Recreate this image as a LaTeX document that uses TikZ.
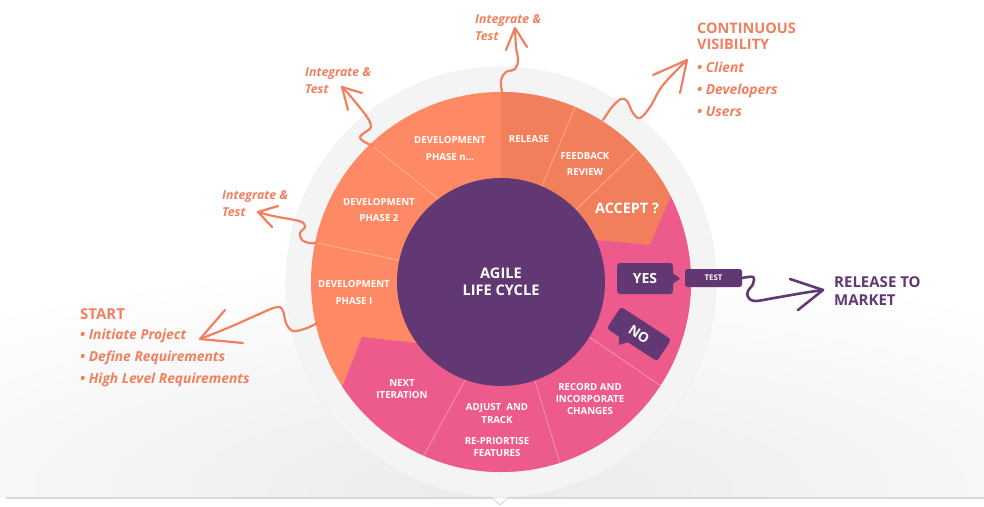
\documentclass[tikz,border=0pt]{standalone}
\usepackage{fontspec}
\setmainfont{Open Sans}

\definecolor{devorange}{RGB}{253,138,100}
\definecolor{reforange}{RGB}{242,127,91}
\definecolor{wheelpink}{RGB}{236,91,140}
\definecolor{wheelpurple}{RGB}{97,56,115}
\definecolor{salmon}{RGB}{240,128,96}
\definecolor{ringgray}{RGB}{244,244,244}

\tikzset{
  seglabel/.style={text=white, align=center, inner sep=0pt,
    font=\bfseries\fontsize{9.7}{#1}\selectfont},
  seglabel/.default=16,
  note/.style={text=salmon, align=left, anchor=west, inner sep=0pt},
  handline/.style={draw=salmon, line width=2.2pt, line cap=round, line join=round},
  purpleline/.style={draw=wheelpurple, line width=2.6pt, line cap=round, line join=round},
  divider/.style={draw=white, draw opacity=0.35, line width=0.8pt},
  bubble/.style={fill=wheelpurple, rounded corners=3pt, text=white, inner sep=0pt,
    font=\bfseries\fontsize{14}{14}\selectfont},
}

\begin{document}
\begin{tikzpicture}[x=1pt,y=-1pt]
\useasboundingbox (0,0) rectangle (984,506);
\fill[white] (0,0) rectangle (984,506);

% soft floor shadow under the wheel
\begin{scope}
  \clip (0,0) rectangle (984,497.5);
  \shade[inner color=black!8, outer color=white] (500,490) ellipse [x radius=800pt, y radius=230pt];
\end{scope}

% base line with notch
\draw[black!15, line width=1.3pt] (6,498) -- (984,498);
\draw[black!15, fill=white, line width=1pt, line join=round] (492,497.6) -- (500,505) -- (508,497.6);

\coordinate (hub) at (501,282);

% outer gray ring
\fill[ringgray] (hub) circle[radius=215pt];
\draw[black!6, line width=0.6pt] (hub) circle[radius=215pt];

% coloured ring
\begin{scope}
  \clip (hub) circle[radius=190pt];
  \fill[devorange] (hub) circle[radius=191pt];
  \fill[reforange] (hub) -- (501.5,60) -- (760,60) -- (760,172) -- (681,172)
        -- (650,245) -- (596,240) -- cycle;
  \fill[wheelpink] (596,240) -- (650,245) -- (681,172) -- (760,172) -- (760,520)
        -- (320,520) -- (329,420) -- (343,385) -- (362,337) -- (417,343) -- (hub) -- cycle;
  % segment dividers
  \draw[divider] (575.2,107.1) -- (541.6,186.3);
  \draw[divider] (637.7,150.0) -- (575.8,209.8);
  \draw[divider] (370.2,144.2) -- (438.4,198.9);
  \draw[divider] (315.1,242.5) -- (399.3,260.4);
  \draw[divider] (465.4,379.7) -- (423.7,455.6);
  \draw[divider] (534.9,380.4) -- (559.7,462.7);
  \draw[divider] (589.2,337.1) -- (660.4,385.5);
\end{scope}

% centre disc
\fill[wheelpurple] (hub) circle[radius=104pt];
\node[text=white, align=center, inner sep=0pt, font=\bfseries\fontsize{14.6}{17.5}\selectfont]
  (agile) at (501,282) {AGILE\\LIFE CYCLE};

% segment labels
\node[seglabel=17] (devn) at (450,148.5) {DEVELOPMENT\\PHASE n...};
\node[seglabel] (release) at (529,139) {RELEASE};
\node[seglabel] (feedback) at (585,164) {FEEDBACK\\REVIEW};
\node[text=white, inner sep=0pt, font=\bfseries\fontsize{14.4}{15}\selectfont] (accept) at (627,208) {ACCEPT ?};
\node[seglabel] (dev2) at (379,210) {DEVELOPMENT\\PHASE 2};
\node[seglabel=17] (dev1) at (354,292.5) {DEVELOPMENT\\PHASE I};
\node[seglabel=12] (next) at (402,389) {NEXT\\ITERATION};
\node[seglabel=13] (adjust) at (497,413.5) {ADJUST\ \ AND\\TRACK};
\node[seglabel=12] (reprio) at (497,447) {RE-PRIORTISE\\FEATURES};
\node[seglabel=12] (record) at (590,399) {RECORD AND\\INCORPORATE\\CHANGES};

% decision bubbles
\node[bubble, minimum width=56pt, minimum height=31pt] (yes) at (645,278.5) {YES};
\fill[wheelpurple] ([shift={(0,-5)}]yes.east) -- ([shift={(7,0)}]yes.east) -- ([shift={(0,5)}]yes.east) -- cycle;
\node[bubble, rounded corners=2.5pt, minimum width=57pt, minimum height=18pt,
      font=\bfseries\fontsize{7.8}{8}\selectfont] (test) at (713.5,278) {TEST};
\begin{scope}[shift={(639,334)}, rotate=-33]
  \fill[wheelpurple] (-16,12) -- (-4,12) -- (-11,20) -- cycle;
\end{scope}
\node[bubble, rotate=-33, minimum width=60pt, minimum height=26pt,
      font=\bfseries\fontsize{13.5}{14}\selectfont] (no) at (639,334) {NO};

% release to market
\node[text=wheelpurple, align=left, anchor=west, inner sep=0pt,
      font=\bfseries\fontsize{15}{18}\selectfont] (market) at (834,291) {RELEASE TO\\MARKET};
\coordinate (mtip) at (823,290);
\draw[purpleline] plot[smooth, tension=0.6] coordinates
  {(test.east) (753,277) (753,284) (748,291) (748,297) (755,301) (774,298) (803,293) (mtip)};
\draw[purpleline] ([shift={(-33,-11)}]mtip) -- (mtip) -- ([shift={(-25,20)}]mtip);

% start
\node[note, font=\bfseries\fontsize{15}{15}\selectfont] (start) at (80,314) {START};
\node[note, font=\bfseries\itshape\fontsize{13.8}{22}\selectfont] (startlist) at (80,358)
  {• Initiate Project\\• Define Requirements\\• High Level Requirements};
\coordinate (s0) at (317,323);
\coordinate (stip) at (200,339);
\draw[handline] plot[smooth, tension=0.6] coordinates
  {(s0) (307,328) (293,331) (286,323) (283,311) (277,307) (257,315) (230,327) (stip)};
\draw[handline] ([shift={(25,-29)}]stip) -- (stip) -- ([shift={(43,4)}]stip);

% integrate & test, lower
\node[note, font=\bfseries\itshape\fontsize{12.3}{17}\selectfont] (intc) at (222,203.5) {Integrate \&\\Test};
\coordinate (c0) at (316,243);
\coordinate (ctip) at (258,212);
\draw[handline] plot[smooth, tension=0.6] coordinates
  {(c0) (309,243) (302,240) (300,233) (305,227) (302,222) (292,219.5) (273,216) (ctip)};
\draw[handline] ([shift={(20,-6)}]ctip) -- (ctip) -- ([shift={(14,15)}]ctip);

% integrate & test, middle
\node[note, font=\bfseries\itshape\fontsize{12.3}{17}\selectfont] (intb) at (305,80.5) {Integrate \&\\Test};
\coordinate (b0) at (373,146);
\coordinate (btip) at (342,87);
\draw[handline] plot[smooth, tension=0.6] coordinates
  {(b0) (363,141) (360,137) (364,133) (371,127) (367,117) (352,98) (btip)};
\draw[handline] ([shift={(20,6)}]btip) -- (btip) -- ([shift={(6,23)}]btip);

% integrate & test, top
\node[note, font=\bfseries\itshape\fontsize{12.3}{17}\selectfont] (inta) at (475,27.5) {Integrate \&\\Test};
\coordinate (a0) at (502,92);
\coordinate (atip) at (515,28);
\draw[handline] plot[smooth, tension=0.6] coordinates
  {(a0) (501,80) (506,72) (515,69) (518,60) (516,47) (atip)};
\draw[handline] ([shift={(-9,22)}]atip) -- (atip) -- ([shift={(12,19)}]atip);

% continuous visibility
\node[note, font=\bfseries\fontsize{14.5}{16}\selectfont] (cont) at (697,36) {CONTINUOUS\\VISIBILITY};
\node[note, font=\bfseries\itshape\fontsize{13.8}{22}\selectfont] (contlist) at (697,89)
  {• Client\\• Developers\\• Users};
\coordinate (v0) at (603,120);
\coordinate (vtip) at (687,60);
\draw[handline] plot[smooth, tension=0.6] coordinates
  {(v0) (612,107) (621,99) (627,101) (633,113) (640,118) (650,107) (663,85) (vtip)};
\draw[handline] ([shift={(-34,15)}]vtip) -- (vtip) -- ([shift={(-7,33)}]vtip);
\end{tikzpicture}
\end{document}
